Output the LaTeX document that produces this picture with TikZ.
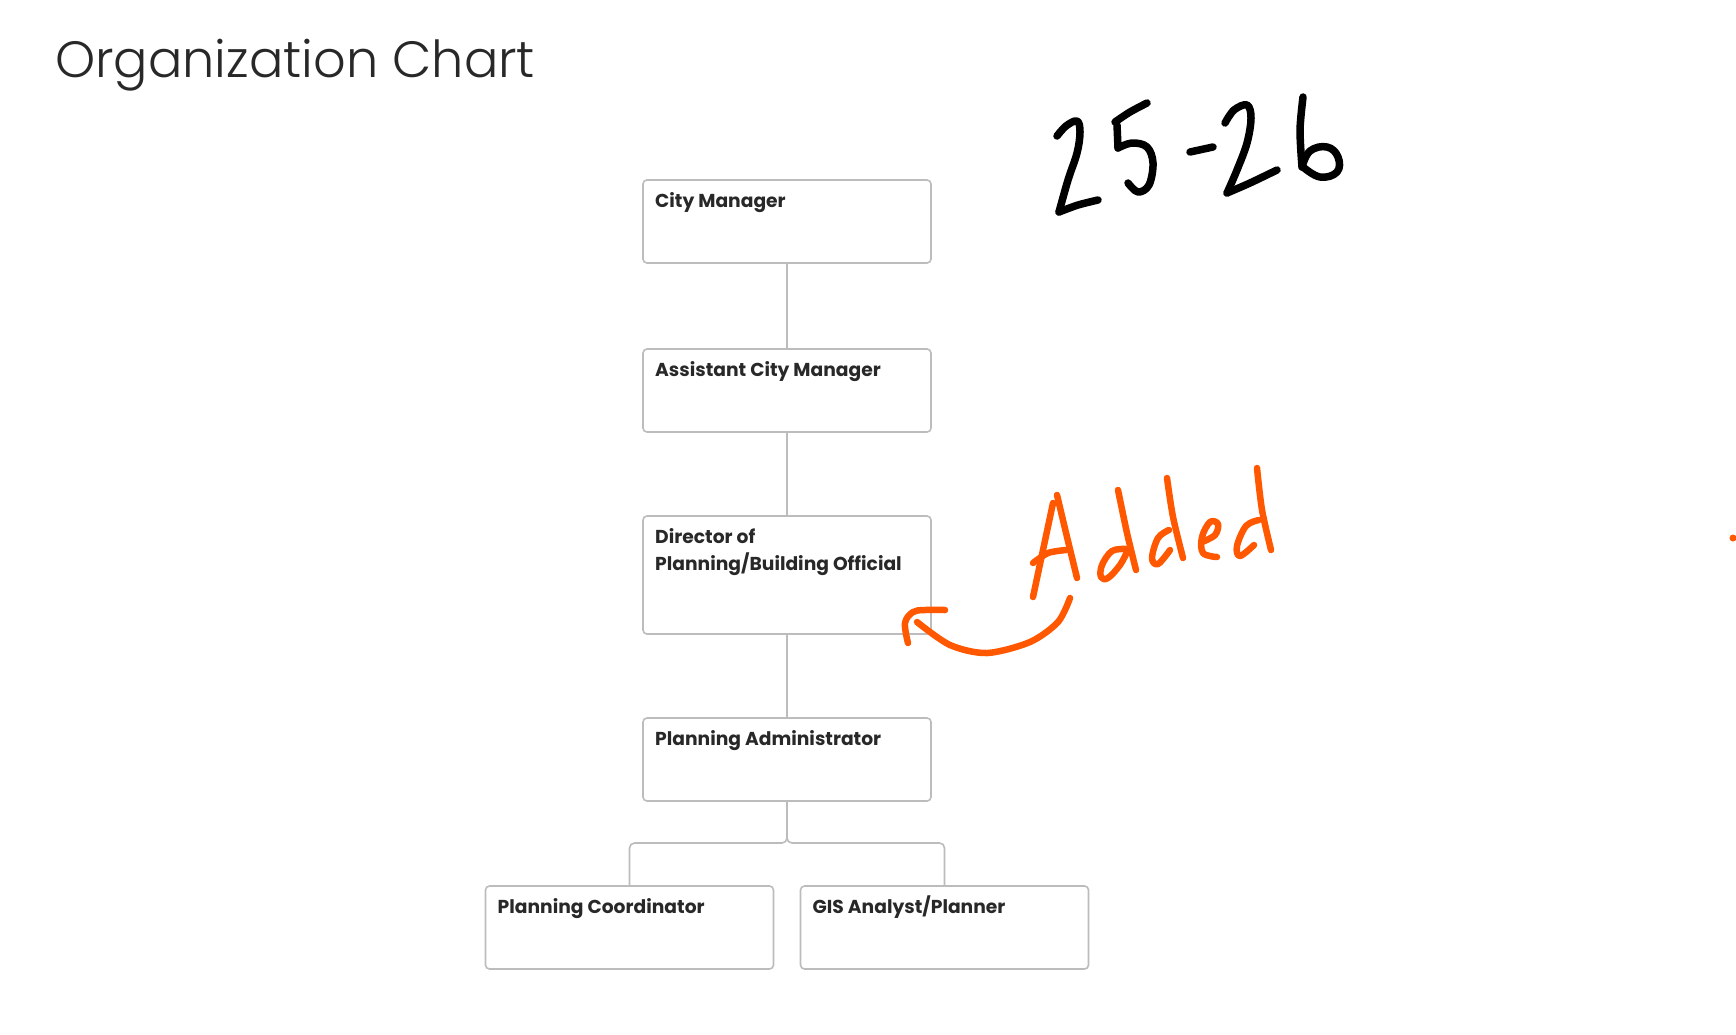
\documentclass[tikz,border=0pt]{standalone}
\usepackage{fontspec}
\setmainfont{Poppins}
\newfontfamily\headfont{Poppins Light}
\usetikzlibrary{positioning}
\definecolor{inkorange}{RGB}{255,88,0}
\definecolor{boxgray}{RGB}{188,188,188}
\definecolor{txtgray}{RGB}{40,40,40}

\begin{document}
\begin{tikzpicture}[x=1pt,y=-1pt,
  office/.style={draw=boxgray, line width=1.6pt, rounded corners=4pt, minimum width=288pt, minimum height=83pt, inner sep=0pt, outer sep=0pt},
  jobtitle/.style={anchor=base west, inner sep=0pt, text=txtgray, align=left, font=\fontsize{18.7}{27}\selectfont\bfseries},
  heading/.style={anchor=base west, inner sep=0pt, text=txtgray, font=\headfont\fontsize{51}{56}\selectfont},
  link/.style={draw=boxgray, line width=1.6pt, rounded corners=5pt},
  ink/.style={line width=7.5pt, line cap=round, line join=round},
  marker/.style={draw=inkorange, line width=6.5pt, line cap=round, line join=round}]
 \useasboundingbox (0,0) rectangle (1736,1034);

% nodes
 \node[heading] (head) at (55,77) {Organization Chart};

 \node[office] (cm) at (787,221.5) {};
 \node[office, below=86pt of cm] (am) {};
 \node[office, below=84pt of am, minimum height=118pt] (dir) {};
 \node[office, below=84pt of dir] (pa) {};
 \node[office, below=85pt of pa, xshift=-157.5pt] (pc) {};
 \node[office, below=85pt of pa, xshift=157.5pt] (gis) {};

 \node[jobtitle] (cmt) at ([shift={(12,27)}]cm.north west) {City Manager};
 \node[jobtitle] (amt) at ([shift={(12,27)}]am.north west) {Assistant City Manager};
 \node[jobtitle] (dirt) at ([shift={(12,54)}]dir.north west) {Director of\\Planning/Building Official};
 \node[jobtitle] (pat) at ([shift={(12,27)}]pa.north west) {Planning Administrator};
 \node[jobtitle] (pct) at ([shift={(12,27)}]pc.north west) {Planning Coordinator};
 \node[jobtitle] (gist) at ([shift={(12,27)}]gis.north west) {GIS Analyst/Planner};

% edges
 \draw[link] (cm.south) -- (am.north);
 \draw[link] (am.south) -- (dir.north);
 \draw[link] (dir.south) -- (pa.north);
 \draw[link] (pa.south) -- ++(0,42) -| (pc.north);
 \draw[link] (pa.south) -- ++(0,42) -| (gis.north);

% 25-26
 \draw[ink] plot[smooth, tension=0.6] coordinates {(1057,136) (1066,126) (1077,121) (1080,132) (1077,153) (1068,180) (1059,212)};
 \draw[ink] plot[smooth] coordinates {(1059,212) (1078,205) (1098,200)};
 \draw[ink] plot[smooth] coordinates {(1115,122) (1130,112) (1147,103)};
 \draw[ink] (1117,125) -- (1118,148);
 \draw[ink] plot[smooth, tension=0.6] coordinates {(1118,148) (1132,143) (1147,147) (1153,163) (1149,185) (1138,192) (1128,183)};
 \draw[ink] (1190,152) -- (1213,147);
 \draw[ink] plot[smooth, tension=0.6] coordinates {(1225,123) (1234,110) (1247,105) (1251,118) (1247,143) (1237,170) (1227,193)};
 \draw[ink] plot[smooth] coordinates {(1227,193) (1250,183) (1277,170)};
 \draw[ink] plot[smooth] coordinates {(1303,97) (1300,130) (1302,167)};
 \draw[ink] plot[smooth, tension=0.7] coordinates {(1302,167) (1310,151) (1327,147) (1338,157) (1337,172) (1320,177) (1303,167)};

% Added
 \draw[marker] plot[smooth] coordinates {(1033,597) (1043,550) (1053,503)};
 \draw[marker] plot[smooth] coordinates {(1057,495) (1067,537) (1077,578)};
 \draw[marker] plot[smooth] coordinates {(1033,563) (1048,553) (1066,550)};
 \draw[marker] plot[smooth] coordinates {(1118,490) (1127,533) (1136,570)};
 \draw[marker] plot[smooth, tension=0.6] coordinates {(1126,549) (1112,551) (1102,565) (1101,577) (1108,578) (1120,565) (1127,552)};
 \draw[marker] plot[smooth] coordinates {(1167,478) (1173,517) (1183,558)};
 \draw[marker] plot[smooth, tension=0.6] coordinates {(1169,530) (1158,538) (1152,558) (1158,564) (1170,550)};
 \draw[marker] plot[smooth, tension=0.6] coordinates {(1202,542) (1215,535) (1218,524) (1210,522) (1202,537) (1203,553) (1217,557)};
 \draw[marker] plot[smooth] coordinates {(1257,468) (1262,510) (1271,550)};
 \draw[marker] plot[smooth, tension=0.6] coordinates {(1259,520) (1246,526) (1237,546) (1240,556) (1254,545)};
 \draw[marker] plot[smooth] coordinates {(1070,598) (1058,622) (1030,642) (987,653) (950,645) (917,622)};
 \draw[marker] plot[smooth, tension=0.6] coordinates {(945,610) (925,610) (913,612) (905,623) (908,643)};
 \fill[inkorange] (1733,538) circle (3.5);
\end{tikzpicture}
\end{document}
